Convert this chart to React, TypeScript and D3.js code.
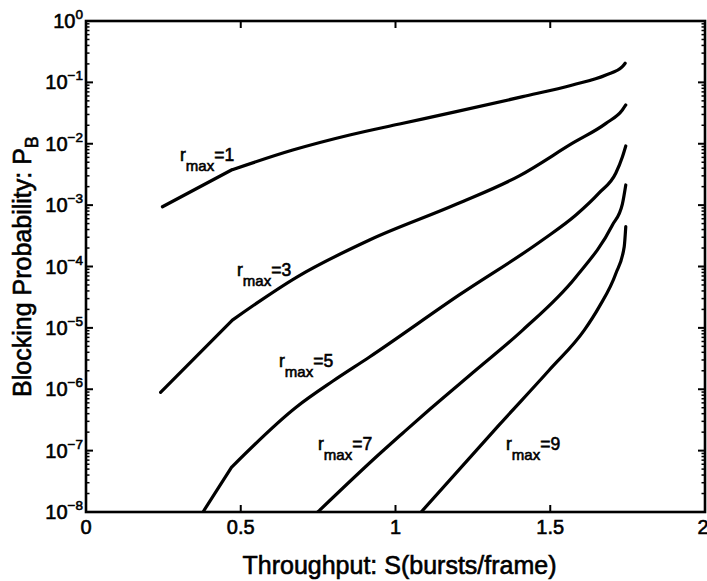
import React from 'react';
import * as d3 from 'd3';

// ---- data ----
const xTickValues = [0, 0.5, 1, 1.5, 2];
const xTickLabels = ['0', '0.5', '1', '1.5', '2'];
const yExponents = [0, -1, -2, -3, -4, -5, -6, -7, -8];

const S1 = [0.247, 0.470, 0.668, 0.852, 1.013, 1.196, 1.411, 1.572, 1.680, 1.733, 1.742];
const P1 = [9.4e-4, 3.73e-3, 7.9e-3, 1.39e-2, 2.1e-2, 3.33e-2, 5.85e-2, 9.06e-2, 1.32e-1, 1.8e-1, 2.05e-1];

const S3 = [0.241, 0.473, 0.680, 0.916, 1.196, 1.400, 1.572, 1.680, 1.733, 1.744];
const P3 = [8.9e-7, 1.34e-5, 6.67e-5, 2.7e-4, 1.03e-3, 3.0e-3, 1.02e-2, 2.15e-2, 3.55e-2, 4.28e-2];

const S5 = [0.378, 0.470, 0.680, 0.798, 0.916, 1.206, 1.475, 1.583, 1.658, 1.712, 1.733, 1.744];
const P5 = [1e-8, 5.35e-8, 5.14e-7, 1.36e-6, 3.35e-6, 3.44e-5, 2.7e-4, 6.9e-4, 1.58e-3, 3.33e-3, 6.08e-3, 9.2e-3];

const S7 = [0.749, 0.955, 1.024, 1.110, 1.260, 1.411, 1.583, 1.701, 1.733, 1.744];
const P7 = [1e-8, 9.5e-8, 1.94e-7, 4.68e-7, 2.06e-6, 9.2e-6, 6.75e-5, 4.74e-4, 1.04e-3, 2.13e-3];

const S9 = [1.083, 1.335, 1.497, 1.610, 1.658, 1.712, 1.739, 1.744];
const P9 = [1e-8, 2.63e-7, 2.06e-6, 9.2e-6, 2.2e-5, 7.7e-5, 2.1e-4, 4.45e-4];

// index of a sharp corner in each curve (-1 = none)
const kinkIndex = [1, 1, 1, -1, -1];

const rmaxValues = ['1', '3', '5', '7', '9'];

const FONT = '"Liberation Sans", Arial, Helvetica, sans-serif';

export default function App() {
  const W = 707;
  const H = 581;
  const left = 86, right = 705, top = 21, bottom = 512;

  const x = d3.scaleLinear().domain([0, 2]).range([left, right]);
  const y = d3.scaleLog().domain([1e-8, 1]).range([bottom, top]);

  const lin = d3
    .line<[number, number]>()
    .x((d) => x(d[0]))
    .y((d) => y(d[1]))
    .curve(d3.curveLinear);
  const smooth = d3
    .line<[number, number]>()
    .x((d) => x(d[0]))
    .y((d) => y(d[1]))
    .curve(d3.curveMonotoneX);

  const series: [number, number][][] = [
    S1.map((s, i) => [s, P1[i]]),
    S3.map((s, i) => [s, P3[i]]),
    S5.map((s, i) => [s, P5[i]]),
    S7.map((s, i) => [s, P7[i]]),
    S9.map((s, i) => [s, P9[i]]),
  ];

  const pathFor = (d: [number, number][], k: number) => {
    if (k < 0) return smooth(d) || '';
    return (lin(d.slice(0, k + 1)) || '') + (smooth(d.slice(k)) || '');
  };

  // label anchors (pixel positions of the "r")
  const labelPos = [
    [180, 161],
    [237, 276],
    [279, 367],
    [318, 450],
    [506, 450],
  ];

  const majorLen = 7;
  const minorLen = 3.5;

  const minorVals: number[] = [];
  for (let e = -8; e < 0; e++) {
    for (let k = 2; k <= 9; k++) minorVals.push(k * Math.pow(10, e));
  }

  const txt = { fill: '#000', stroke: '#000', strokeWidth: 0.6 } as const;

  return (
    <svg
      width={W}
      height={H}
      style={{ position: 'absolute', left: 0, top: 0, background: '#fff' }}
      fontFamily={FONT}
    >
      <rect x={0} y={0} width={W} height={H} fill="#fff" />
      <defs>
        <clipPath id="plotclip">
          <rect x={left} y={top} width={right - left} height={bottom - top} />
        </clipPath>
      </defs>

      {/* curves */}
      <g clipPath="url(#plotclip)">
        {series.map((d, i) => (
          <path
            key={i}
            d={pathFor(d, kinkIndex[i])}
            fill="none"
            stroke="#000"
            strokeWidth={3.2}
            strokeLinejoin="round"
            strokeLinecap="round"
          />
        ))}
      </g>

      {/* y ticks */}
      {yExponents.map((e) => {
        const yy = y(Math.pow(10, e));
        return (
          <g key={'ym' + e}>
            <line x1={left} x2={left + majorLen} y1={yy} y2={yy} stroke="#000" strokeWidth={2} />
            <line x1={right} x2={right - majorLen} y1={yy} y2={yy} stroke="#000" strokeWidth={2} />
            <text x={83} y={yy + 7} textAnchor="end" fontSize={20} {...txt}>
              10
              <tspan dy={-9} fontSize={13.5}>{e === 0 ? '0' : '\u2212' + Math.abs(e)}</tspan>
            </text>
          </g>
        );
      })}
      {minorVals.map((v, i) => {
        const yy = y(v);
        return (
          <g key={'yn' + i}>
            <line x1={left} x2={left + minorLen} y1={yy} y2={yy} stroke="#000" strokeWidth={1.5} />
            <line x1={right} x2={right - minorLen} y1={yy} y2={yy} stroke="#000" strokeWidth={1.5} />
          </g>
        );
      })}

      {/* x ticks */}
      {xTickValues.map((v, i) => {
        const xx = x(v);
        return (
          <g key={'x' + i}>
            <line x1={xx} x2={xx} y1={bottom} y2={bottom - majorLen} stroke="#000" strokeWidth={2} />
            <line x1={xx} x2={xx} y1={top} y2={top + majorLen} stroke="#000" strokeWidth={2} />
            <text
              x={i === xTickValues.length - 1 ? xx - 2 : xx}
              y={534}
              textAnchor="middle"
              fontSize={20}
              {...txt}
            >
              {xTickLabels[i]}
            </text>
          </g>
        );
      })}

      {/* box */}
      <rect
        x={left}
        y={top}
        width={right - left}
        height={bottom - top}
        fill="none"
        stroke="#000"
        strokeWidth={2.6}
      />

      {/* curve labels */}
      {rmaxValues.map((r, i) => (
        <text key={'l' + i} x={labelPos[i][0]} y={labelPos[i][1]} fontSize={17.5} {...txt}>
          r
          <tspan dy={10} fontSize={15}>max</tspan>
          <tspan dy={-10}>={r}</tspan>
        </text>
      ))}

      {/* axis titles */}
      <text x={(left + right) / 2 + 4} y={574} textAnchor="middle" fontSize={25} {...txt}>
        Throughput: S(bursts/frame)
      </text>
      <text
        transform={`translate(31, ${(top + bottom) / 2}) rotate(-90)`}
        textAnchor="middle"
        fontSize={25}
        {...txt}
      >
        Blocking Probability: P
        <tspan dy={7} fontSize={18}>B</tspan>
      </text>
    </svg>
  );
}
